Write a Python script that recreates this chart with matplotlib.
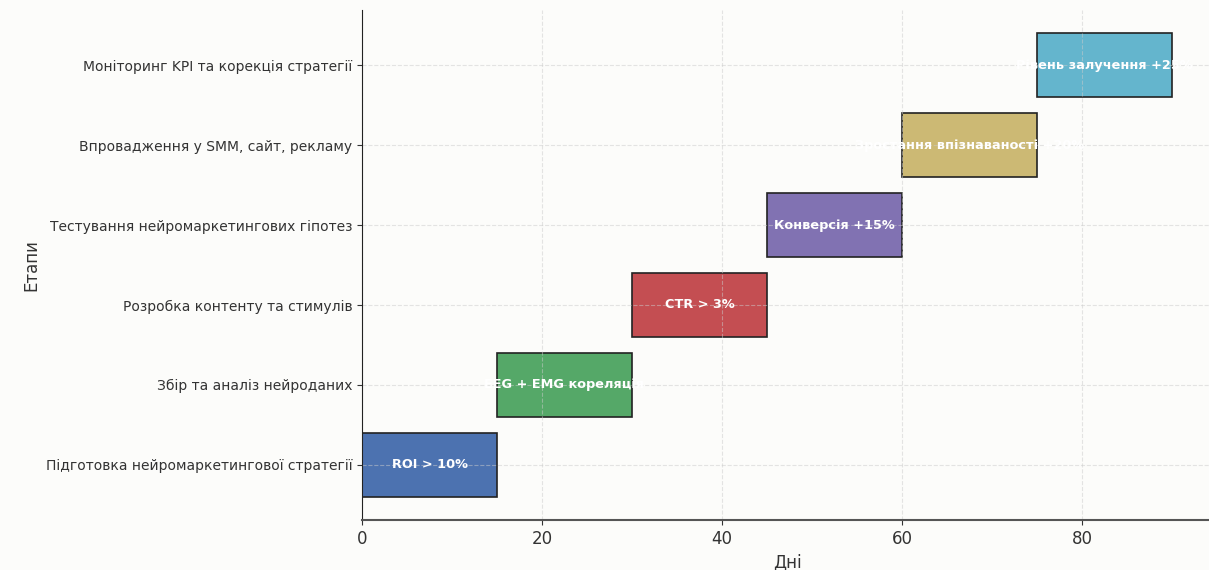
import matplotlib
matplotlib.use("Agg")
import matplotlib.pyplot as plt

# Етапи, початок та тривалість (дні), KPI
stages = [
    "Підготовка нейромаркетингової стратегії",
    "Збір та аналіз нейроданих",
    "Розробка контенту та стимулів",
    "Тестування нейромаркетингових гіпотез",
    "Впровадження у SMM, сайт, рекламу",
    "Моніторинг KPI та корекція стратегії",
]
start_days = [0, 15, 30, 45, 60, 75]
durations = [15, 15, 15, 15, 15, 15]
kpis = [
    "ROI > 10%",
    "EEG + EMG кореляція",
    "CTR > 3%",
    "Конверсія +15%",
    "Зростання впізнаваності +20%",
    "Рівень залучення +25%",
]
colors = ["#4c72b0", "#55a868", "#c44e52", "#8172b2", "#ccb974", "#64b5cd"]

fig = plt.figure(figsize=(12.09, 5.70), dpi=100, facecolor="#fcfcfa")
ax = fig.add_axes([362 / 1209, 50 / 570, 850.5 / 1209, 510 / 570])
ax.set_facecolor("#fcfcfa")

y_pos = range(len(stages))
ax.barh(y_pos, durations, left=start_days, height=0.8, color=colors,
        edgecolor="#222222", linewidth=1.2)

for i in y_pos:
    ax.text(start_days[i] + durations[i] / 2, i, kpis[i], ha="center", va="center",
            color="white", fontsize=9.3, fontweight="bold")

ax.set_yticks(list(y_pos))
ax.set_yticklabels(stages, fontsize=10, color="#333333")
ax.set_xlim(0, 94.5)
ax.tick_params(axis="x", labelsize=12, colors="#333333")
ax.tick_params(axis="y", colors="#333333")
ax.set_xlabel("Дні", fontsize=12, color="#333333")
ax.set_ylabel("Етапи", fontsize=12, color="#333333")

ax.grid(True, linestyle="--", color="#cccccc", alpha=0.5, linewidth=0.8)
ax.set_axisbelow(False)
for s in ["top", "right"]:
    ax.spines[s].set_visible(False)
ax.spines["left"].set_color("#222222")
ax.spines["left"].set_zorder(4)
ax.spines["bottom"].set_color("#555555")
ax.spines["bottom"].set_linewidth(1.5)
ax.spines["bottom"].set_zorder(4)

plt.savefig("out.png", dpi=100, facecolor=fig.get_facecolor())
